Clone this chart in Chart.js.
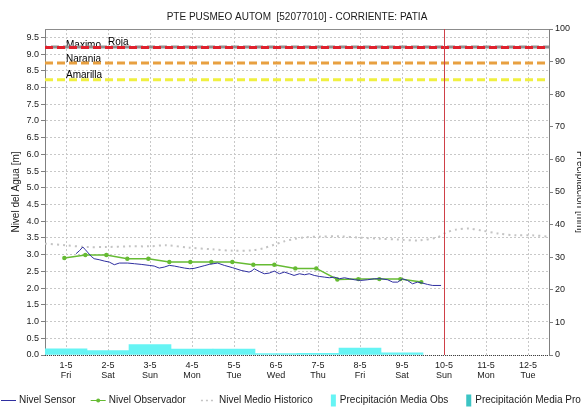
<!DOCTYPE html>
<html>
<head>
<meta charset="utf-8">
<title>PTE PUSMEO AUTOM</title>
<script src="https://cdn.jsdelivr.net/npm/chart.js@4.4.0/dist/chart.umd.min.js"></script>
<style>
  html, body { margin: 0; padding: 0; background: #fff; overflow: hidden; }
</style>
</head>
<body>
<canvas id="chart" width="581" height="407"></canvas>
<script>
// x axis: days counted from 1-5
const dateLabels = ['1-5', '2-5', '3-5', '4-5', '5-5', '6-5', '7-5', '8-5', '9-5', '10-5', '11-5', '12-5'];
const dayNames = ['Fri', 'Sat', 'Sun', 'Mon', 'Tue', 'Wed', 'Thu', 'Fri', 'Sat', 'Sun', 'Mon', 'Tue'];
const nowDay = 9;

// Nivel Sensor [m]
const sensorDays = [0.24, 0.32, 0.40, 0.46, 0.51, 0.60, 0.67, 0.79, 0.91, 1.03,
  1.15, 1.27, 1.47, 1.63, 1.79, 1.98, 2.10, 2.22, 2.34, 2.46,
  2.58, 2.70, 2.82, 2.94, 3.05, 3.17, 3.29, 3.41, 3.61, 3.77,
  3.97, 4.17, 4.36, 4.43, 4.48, 4.60, 4.72, 4.84, 4.96, 5.08,
  5.20, 5.32, 5.43, 5.56, 5.68, 5.79, 5.91, 6.03, 6.15, 6.27,
  6.39, 6.51, 6.63, 6.75, 6.87, 7.02, 7.18, 7.34, 7.50, 7.66,
  7.78, 7.90, 8.01, 8.13, 8.25, 8.37, 8.49, 8.61, 8.73, 8.93];
const sensorLevel = [3.03, 3.12, 3.23, 3.15, 3.08, 2.95, 2.88, 2.85, 2.81, 2.78,
  2.70, 2.75, 2.75, 2.73, 2.71, 2.68, 2.66, 2.60, 2.63, 2.68,
  2.66, 2.63, 2.60, 2.58, 2.59, 2.63, 2.67, 2.71, 2.75, 2.68,
  2.61, 2.53, 2.48, 2.52, 2.58, 2.50, 2.43, 2.45, 2.51, 2.43,
  2.48, 2.43, 2.38, 2.43, 2.40, 2.43, 2.38, 2.35, 2.33, 2.31,
  2.33, 2.28, 2.31, 2.28, 2.25, 2.23, 2.25, 2.28, 2.28, 2.25,
  2.18, 2.18, 2.28, 2.23, 2.13, 2.18, 2.15, 2.11, 2.08, 2.08];

// Nivel Observador [m], two readings a day
const obsDays = [-0.04, 0.46, 0.96, 1.46, 1.96, 2.46, 2.96, 3.46, 3.96,
  4.46, 4.96, 5.46, 5.96, 6.46, 6.96, 7.46, 7.96, 8.46];
const obsLevel = [2.90, 2.99, 2.99, 2.88, 2.88, 2.78, 2.78, 2.78, 2.78,
  2.70, 2.70, 2.59, 2.59, 2.26, 2.27, 2.27, 2.27, 2.18];

// Nivel Medio Historico [m]
const histDays = [-0.5, 0, 0.48, 0.95, 1.51, 1.98, 2.38, 2.94, 3.49, 3.97, 4.44,
  4.72, 4.96, 5.20, 5.44, 5.68, 6.03, 6.51, 6.98, 7.46, 7.94, 8.41, 8.84,
  9.05, 9.29, 9.60, 9.91, 10.31, 10.72, 11.10, 11.5];
const histLevel = [3.33, 3.28, 3.23, 3.23, 3.25, 3.25, 3.28, 3.21, 3.16, 3.12, 3.13,
  3.20, 3.30, 3.40, 3.47, 3.52, 3.54, 3.55, 3.51, 3.48, 3.45, 3.43, 3.52,
  3.66, 3.75, 3.78, 3.72, 3.63, 3.58, 3.58, 3.54];

// Precipitación Media Obs [mm] per day
const rainDays = [0, 1, 2, 3, 4, 5, 6, 7, 8];
const rainObs = [1.9, 1.35, 3.2, 1.8, 1.8, 0.4, 0.5, 2.1, 0.65];

// alert levels [m]
const alertNames = ['Maximo', 'Roja', 'Naranja', 'Amarilla'];
const alertLevels = [9.21, 9.20, 8.73, 8.23];

// how the alert lines and their names are drawn
const alertStyle = [
  { color: '#8f8f8f', dash: [8, 4], dashOffset: 6, labelDay: 0, dy: 0.6 },
  { color: '#e0202c', dash: [8, 4], dashOffset: 0, labelDay: 1, dy: -2.7 },
  { color: '#e8a040', dash: [8, 4], dashOffset: 0, labelDay: 0, dy: -1.6 },
  { color: '#f0f040', dash: [8, 4], dashOffset: 0, labelDay: 0, dy: -1.5 }
];

const FONT = '"Liberation Sans", Arial, sans-serif';
Chart.defaults.font.family = FONT;
Chart.defaults.font.size = 9;
Chart.defaults.color = '#1a1a1a';

const xmin = -0.5, xmax = 11.5;

const alertSets = alertNames.map((name, i) => ({
  label: name,
  data: [{ x: xmin, y: alertLevels[i] }, { x: xmax, y: alertLevels[i] }],
  borderColor: alertStyle[i].color,
  borderWidth: 3,
  borderDash: alertStyle[i].dash,
  borderDashOffset: alertStyle[i].dashOffset,
  pointRadius: 0,
  order: 20 - i
}));

const alertLabels = {
  id: 'alertLabels',
  beforeDatasetsDraw(chart) {
    const { ctx, scales: { x, y } } = chart;
    ctx.save();
    ctx.font = '10px ' + FONT;
    ctx.fillStyle = '#000';
    ctx.textAlign = 'left';
    ctx.textBaseline = 'alphabetic';
    alertNames.forEach((name, i) => {
      const st = alertStyle[i];
      ctx.fillText(name, x.getPixelForValue(st.labelDay), y.getPixelForValue(alertLevels[i]) + st.dy);
    });
    ctx.restore();
  }
};

// top border, dotted bottom axis and the red "now" marker
const frame = {
  id: 'frame',
  afterDatasetsDraw(chart) {
    const { ctx, chartArea: a, scales: { x } } = chart;
    ctx.save();
    ctx.lineWidth = 1;
    ctx.strokeStyle = '#8c8c8c';
    ctx.beginPath();
    ctx.moveTo(a.left, Math.round(a.top) + 0.5);
    ctx.lineTo(a.right, Math.round(a.top) + 0.5);
    ctx.stroke();

    ctx.strokeStyle = '#404040';
    ctx.setLineDash([1, 1]);
    ctx.beginPath();
    ctx.moveTo(a.left, Math.round(a.bottom) + 0.5);
    ctx.lineTo(a.right, Math.round(a.bottom) + 0.5);
    ctx.stroke();

    ctx.setLineDash([]);
    ctx.strokeStyle = '#cf4048';
    const nx = Math.round(x.getPixelForValue(nowDay)) + 0.5;
    ctx.beginPath();
    ctx.moveTo(nx, a.top);
    ctx.lineTo(nx, a.bottom);
    ctx.stroke();
    ctx.restore();
  }
};

// single-row legend along the bottom edge
const bottomLegend = {
  id: 'bottomLegend',
  afterDraw(chart) {
    const { ctx } = chart;
    const y = 400.5;
    let cx = 1;
    ctx.save();
    ctx.font = '10px ' + FONT;
    ctx.textBaseline = 'middle';
    chart.data.datasets.forEach(ds => {
      if (!ds.legendSymbol) return;
      if (ds.legendSymbol === 'box') {
        ctx.fillStyle = ds.backgroundColor;
        ctx.fillRect(cx + 3, y - 6, 5, 12);
        cx += 12;
      } else {
        ctx.strokeStyle = ds.borderColor;
        ctx.lineWidth = ds.legendSymbol === 'dots' ? 1.5 : 1;
        ctx.setLineDash(ds.legendSymbol === 'dots' ? [2, 3] : []);
        ctx.beginPath();
        ctx.moveTo(cx, y);
        ctx.lineTo(cx + 15, y);
        ctx.stroke();
        ctx.setLineDash([]);
        if (ds.legendSymbol === 'marker') {
          ctx.fillStyle = ds.borderColor;
          ctx.beginPath();
          ctx.arc(cx + 7.5, y, 2, 0, Math.PI * 2);
          ctx.fill();
        }
        cx += 18;
      }
      ctx.fillStyle = '#1a1a1a';
      ctx.fillText(ds.label, cx, y);
      cx += ctx.measureText(ds.label).width + 15;
    });
    ctx.restore();
  }
};

new Chart(document.getElementById('chart'), {
  type: 'line',
  data: {
    datasets: [
      {
        label: 'Nivel Sensor',
        data: sensorDays.map((d, i) => ({ x: d, y: sensorLevel[i] })),
        borderColor: '#2f2fa0',
        borderWidth: 1,
        pointRadius: 0,
        legendSymbol: 'line',
        order: 1
      },
      {
        label: 'Nivel Observador',
        data: obsDays.map((d, i) => ({ x: d, y: obsLevel[i] })),
        borderColor: '#66bb33',
        backgroundColor: '#66bb33',
        borderWidth: 1.5,
        pointRadius: 2.2,
        pointBorderWidth: 0,
        legendSymbol: 'marker',
        order: 2
      },
      {
        label: 'Nivel Medio Historico',
        data: histDays.map((d, i) => ({ x: d, y: histLevel[i] })),
        borderColor: '#c4c4c4',
        borderWidth: 2,
        borderDash: [2, 4],
        pointRadius: 0,
        tension: 0.3,
        legendSymbol: 'dots',
        order: 3
      },
      {
        type: 'bar',
        label: 'Precipitación Media Obs',
        data: rainDays.map((d, i) => ({ x: d, y: rainObs[i] })),
        yAxisID: 'y1',
        backgroundColor: '#66f4f4',
        borderWidth: 0,
        barPercentage: 1,
        categoryPercentage: 1,
        grouped: false,
        legendSymbol: 'box',
        order: 30
      },
      {
        type: 'bar',
        label: 'Precipitación Media Pronosticada',
        data: [],
        yAxisID: 'y1',
        backgroundColor: '#3cc4c4',
        grouped: false,
        legendSymbol: 'box',
        order: 31
      },
      ...alertSets
    ]
  },
  options: {
    responsive: false,
    animation: false,
    layout: { padding: 0 },
    plugins: {
      legend: { display: false },
      tooltip: { enabled: false },
      title: {
        display: true,
        fullSize: false,
        text: 'PTE PUSMEO AUTOM  [52077010] - CORRIENTE: PATIA',
        color: '#1a1a1a',
        font: { size: 10, weight: 'normal' },
        padding: { top: 11, bottom: 6 }
      }
    },
    scales: {
      x: {
        type: 'linear',
        min: xmin,
        max: xmax,
        offset: false,
        afterBuildTicks: s => { s.ticks = dateLabels.map((_, i) => ({ value: i })); },
        afterFit: s => { s.height = 52; },
        ticks: {
          autoSkip: false,
          maxRotation: 0,
          padding: 6,
          font: { size: 9, lineHeight: 1.05 },
          callback: v => [dateLabels[v], dayNames[v]]
        },
        grid: { color: '#c8c8c8', drawTicks: false, offset: false },
        border: { display: false, dash: [2, 2] }
      },
      y: {
        position: 'left',
        min: 0,
        max: 9.75,
        afterBuildTicks: s => {
          const ticks = [];
          for (let v = 0; v <= 9.5; v += 0.5) ticks.push({ value: v });
          s.ticks = ticks;
        },
        afterFit: s => { s.width = 45; },
        ticks: {
          padding: 2,
          callback: v => v.toFixed(1)
        },
        grid: {
          color: '#c8c8c8',
          tickLength: 4,
          tickColor: '#808080',
          tickBorderDash: []
        },
        border: { color: '#808080', dash: [2, 2] },
        title: {
          display: true,
          text: 'Nivel del Agua [m]',
          font: { size: 10 },
          padding: { top: 10, bottom: 0 }
        }
      },
      y1: {
        position: 'right',
        min: 0,
        max: 100,
        afterFit: s => { s.width = 32; },
        ticks: { stepSize: 10, padding: 2 },
        grid: {
          drawOnChartArea: false,
          tickLength: 4,
          tickColor: '#808080'
        },
        border: { color: '#808080' },
        title: {
          display: true,
          text: 'Precipitación [mm]',
          font: { size: 10 },
          padding: { top: -5, bottom: 0 }
        }
      }
    }
  },
  plugins: [alertLabels, frame, bottomLegend]
});
</script>
</body>
</html>
